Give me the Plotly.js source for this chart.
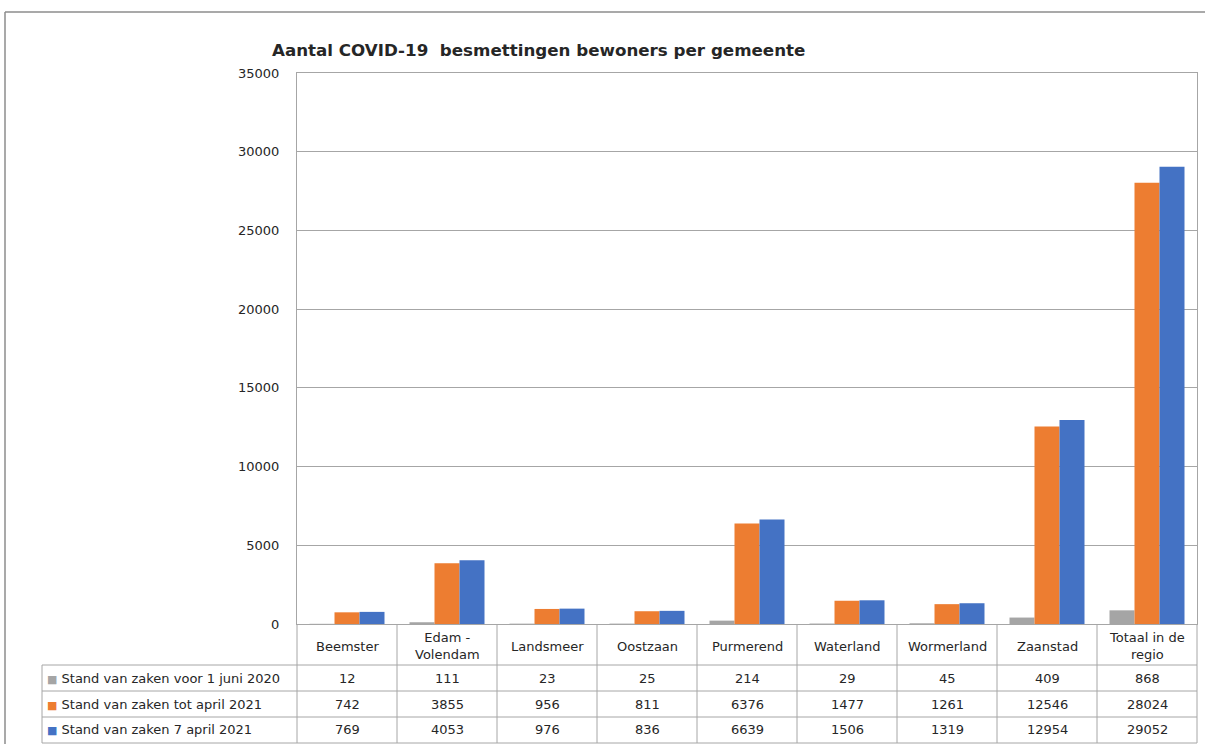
<!DOCTYPE html>
<html>
<head>
<meta charset="utf-8">
<script src="https://cdn.plot.ly/plotly-3.0.1.min.js"></script>
<style>html,body{margin:0;padding:0;background:#fff;}#chart{width:1205px;height:744px;}</style>
</head>
<body>
<div id="chart"></div>
<script>
const categories = ["Beemster","Edam-Volendam","Landsmeer","Oostzaan","Purmerend","Waterland","Wormerland","Zaanstad","Totaal in de regio"];
const categoryLabels = ["Beemster","Edam -<br>Volendam","Landsmeer","Oostzaan","Purmerend","Waterland","Wormerland","Zaanstad","Totaal in de<br>regio"];
const seriesNames = ["Stand van zaken voor 1 juni 2020","Stand van zaken tot april 2021","Stand van zaken 7 april 2021"];
const juni2020 = [12,111,23,25,214,29,45,409,868];
const totApril2021 = [742,3855,956,811,6376,1477,1261,12546,28024];
const april7_2021 = [769,4053,976,836,6639,1506,1319,12954,29052];
const yTicks = [0,5000,10000,15000,20000,25000,30000,35000];

const colors = ["#a5a5a5","#ed7d31","#4472c4"];
const seriesValues = [juni2020, totApril2021, april7_2021];
const FONT = "DejaVu Sans, Tahoma, sans-serif";

const traces = seriesValues.map((vals,i)=>({
  type:"bar", x:categories, y:vals, name:seriesNames[i],
  marker:{color:colors[i], line:{width:0}}, hoverinfo:"x+y"
}));

// Layout geometry (pixels -> paper)
const W=1205,H=744,L=297,R=8,T=73,B=120;
const pw=W-L-R, ph=H-T-B;
const px2x = p => (p-L)/pw;
const py2y = p => (H-B-p)/ph;
const lineCol = "#a6a6a6";

const rowY = [624,665,691,717,743];
const shapes = [];
// horizontal lines of table
[665,691,717,743].forEach(yp=>{
  shapes.push({type:"line",xref:"paper",yref:"paper",x0:px2x(42),x1:1,y0:py2y(yp),y1:py2y(yp),line:{color:lineCol,width:1}});
});
// vertical lines
shapes.push({type:"line",xref:"paper",yref:"paper",x0:px2x(42),x1:px2x(42),y0:py2y(665),y1:py2y(743),line:{color:lineCol,width:1}});
for(let i=0;i<=categories.length;i++){
  const xp = i/categories.length;
  shapes.push({type:"line",xref:"paper",yref:"paper",x0:xp,x1:xp,y0:0,y1:py2y(743),line:{color:lineCol,width:1}});
}
// outer chart frame
shapes.push({type:"line",xref:"paper",yref:"paper",x0:px2x(5),x1:px2x(1210),y0:py2y(12),y1:py2y(12),line:{color:"#8c8c8c",width:1.5}});
shapes.push({type:"line",xref:"paper",yref:"paper",x0:px2x(5),x1:px2x(5),y0:py2y(12),y1:py2y(750),line:{color:"#8c8c8c",width:1.5}});

const annotations = [];
const txtFont = {family:FONT,size:13,color:"#262626"};
categories.forEach((c,i)=>{
  annotations.push({xref:"x",yref:"paper",x:c,y:py2y(646),text:categoryLabels[i],showarrow:false,font:txtFont,xanchor:"center",yanchor:"middle"});
  seriesValues.forEach((vals,s)=>{
    const yc = (rowY[s+1]+rowY[s+2])/2;
    annotations.push({xref:"x",yref:"paper",x:c,y:py2y(yc),text:String(vals[i]),showarrow:false,font:txtFont,xanchor:"center",yanchor:"middle"});
  });
});
seriesNames.forEach((n,s)=>{
  const yc = (rowY[s+1]+rowY[s+2])/2;
  annotations.push({xref:"paper",yref:"paper",x:px2x(45),y:py2y(yc),
    text:`<span style="color:${colors[s]};font-size:11px">■</span> ${n}`,
    showarrow:false,font:txtFont,xanchor:"left",yanchor:"middle"});
});

const layout = {
  width:W,height:H,
  margin:{l:L,r:R,t:T,b:B,pad:0},
  paper_bgcolor:"#fff",plot_bgcolor:"#fff",
  title:{text:"<b>Aantal COVID-19  besmettingen bewoners per gemeente</b>",
    font:{family:FONT,size:16.7,color:"#262626"},
    xref:"container",yref:"container",x:272/W,xanchor:"left",y:1-50/H,yanchor:"middle"},
  showlegend:false,
  barmode:"group",bargap:0.25,bargroupgap:0,
  xaxis:{type:"category",showticklabels:false,ticks:"",showgrid:false,showline:true,mirror:true,linecolor:lineCol,linewidth:1,fixedrange:true},
  yaxis:{range:[0,35000],tickvals:yTicks,ticktext:yTicks.map(String),showgrid:true,gridcolor:lineCol,gridwidth:1,
    showline:true,mirror:true,linecolor:lineCol,linewidth:1,zeroline:false,ticks:"",ticklabelstandoff:14,
    tickfont:{family:FONT,size:13,color:"#262626"},fixedrange:true},
  shapes:shapes,annotations:annotations,
  font:{family:FONT}
};
Plotly.newPlot("chart",traces,layout,{displayModeBar:false,staticPlot:true});
</script>
</body>
</html>
